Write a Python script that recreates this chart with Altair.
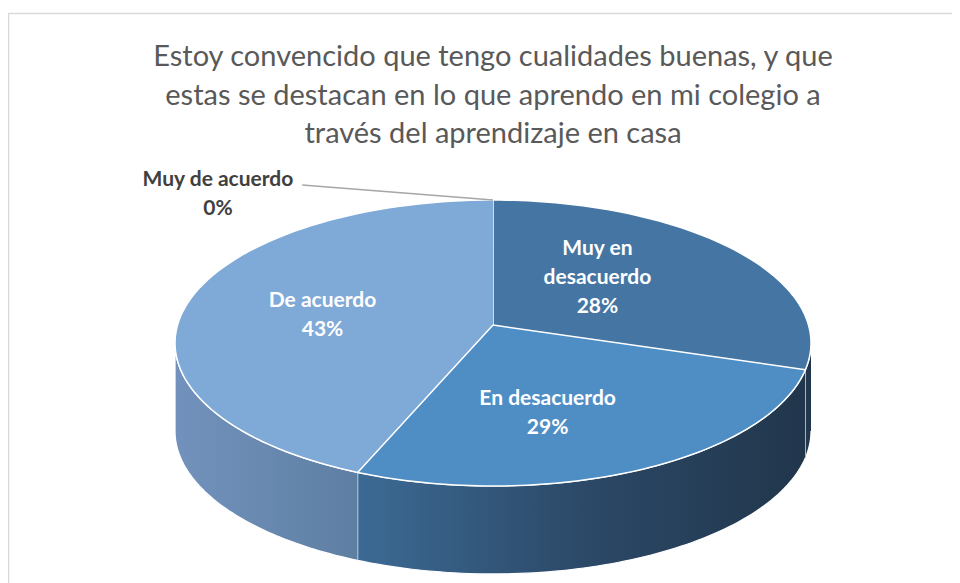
import altair as alt
import pandas as pd

# ---- data ----
categories = ["Muy en desacuerdo", "En desacuerdo", "De acuerdo", "Muy de acuerdo"]
label_names = ["Muy en\ndesacuerdo", "En desacuerdo", "De acuerdo", "Muy de acuerdo"]
percentages = [28, 29, 43, 0]

title_lines = [
    "Estoy convencido que tengo cualidades buenas, y que",
    "estas se destacan en lo que aprendo en mi colegio a",
    "través del aprendizaje en casa",
]

# ---- styles ----
top_colors = ["#4475a3", "#4f8ec5", "#7fa9d7", "#3f6d9c"]
side_gradients = {
    "Muy en desacuerdo": [("#24394f", 0), ("#21364b", 1)],
    "En desacuerdo": [("#3c6a94", 0), ("#2c4968", 0.5), ("#21364b", 1)],
    "De acuerdo": [("#7292bd", 0), ("#5e7fa2", 1)],
    "Muy de acuerdo": [("#24394f", 0), ("#21364b", 1)],
}

W, H = 944, 575
XMIN, XMAX = -1.5252, 1.4434
YMIN, YMAX = -1.6783, 2.3427
DEPTH = 0.615
APEX_Y = 0.126
N = 80
RX, RY, LX0, LY0 = 0.495, 0.62, -0.053, 0.06
LH = 29                      # label line height in px
LH_U = LH / 143.0            # same in y units

df = pd.DataFrame({
    "i": list(range(len(categories))),
    "cat": categories,
    "pct": percentages,
    "label": [f"{n}\n{p}%" for n, p in zip(label_names, percentages)],
})

xs = alt.Scale(domain=[XMIN, XMAX], nice=False, zero=False)
ys = alt.Scale(domain=[YMIN, YMAX], nice=False, zero=False)

base = (
    alt.Chart(df)
    .transform_joinaggregate(total="sum(pct)")
    .transform_window(cum="sum(pct)", sort=[alt.SortField("i")], frame=[None, 0])
    .transform_calculate(
        a0="2*PI*(datum.cum - datum.pct)/datum.total",
        a1="2*PI*datum.cum/datum.total",
        nl="length(split(datum.label, '\\n'))",
    )
)

# side walls (front half only)
side_base = (
    base.transform_calculate(s0="max(datum.a0, PI/2)", s1="min(datum.a1, 3*PI/2)")
    .transform_filter("datum.s1 > datum.s0")
    .transform_calculate(k=f"sequence(0, {2 * N + 2})")
    .transform_flatten(["k"])
    .transform_calculate(
        ang=f"datum.k <= {N} ? datum.s0 + (datum.s1 - datum.s0) * datum.k / {N}"
            f" : datum.s1 - (datum.s1 - datum.s0) * (datum.k - {N + 1}) / {N}",
    )
    .transform_calculate(
        x="sin(datum.ang)",
        y=f"datum.k <= {N} ? cos(datum.ang) : cos(datum.ang) - {DEPTH}",
    )
)

side_layers = []
for c in categories:
    stops = [alt.GradientStop(color=col, offset=off) for col, off in side_gradients[c]]
    side_layers.append(
        side_base.transform_filter(alt.datum.cat == c)
        .mark_line(
            fill=alt.LinearGradient(gradient="linear", stops=stops, x1=0, x2=1, y1=0, y2=0),
            stroke="white", strokeWidth=1.2, strokeJoin="round",
        )
        .encode(
            x=alt.X("x:Q", scale=xs, axis=None),
            y=alt.Y("y:Q", scale=ys, axis=None),
            order=alt.Order("k:Q"),
        )
    )

# top faces
top = (
    base.transform_filter("datum.pct > 0")
    .transform_calculate(k=f"sequence(-1, {N + 1})")
    .transform_flatten(["k"])
    .transform_calculate(ang=f"datum.a0 + (datum.a1 - datum.a0) * max(datum.k, 0) / {N}")
    .transform_calculate(
        x="datum.k < 0 ? 0 : sin(datum.ang)",
        y=f"datum.k < 0 ? {APEX_Y} : cos(datum.ang)",
    )
    .mark_line(filled=True, stroke="white", strokeWidth=1.5, strokeJoin="round")
    .encode(
        x=alt.X("x:Q", scale=xs, axis=None),
        y=alt.Y("y:Q", scale=ys, axis=None),
        order=alt.Order("k:Q"),
        color=alt.Color("cat:N", scale=alt.Scale(domain=categories, range=top_colors), legend=None),
    )
)

# inside labels (block centred on the computed point)
labels = (
    base.transform_filter("datum.pct > 0")
    .transform_calculate(mid="(datum.a0 + datum.a1)/2")
    .transform_calculate(
        x=f"{LX0} + sin(datum.mid)*{RX}",
        y=f"{LY0} + cos(datum.mid)*{RY} + (datum.nl - 1) / 2 * {LH_U}",
    )
    .mark_text(lineBreak="\n", color="white", font="Lato", fontWeight="bold",
               fontSize=21, lineHeight=LH, align="center", baseline="middle")
    .encode(x=alt.X("x:Q", scale=xs, axis=None), y=alt.Y("y:Q", scale=ys, axis=None),
            text="label:N")
)

# outside label for the 0% slice with leader line
zero = base.transform_filter("datum.pct == 0").transform_calculate(
    rx="sin(datum.a0)", ry="cos(datum.a0)"
).transform_calculate(
    lx="datum.rx - 0.60", ly="datum.ry + 0.105",
    tx="datum.rx - 0.865", ty=f"datum.ry + 0.038 + (datum.nl - 1) / 2 * {LH_U}",
)
leader = zero.mark_rule(color="#a6a6a6", strokeWidth=1.3).encode(
    x=alt.X("rx:Q", scale=xs, axis=None), y=alt.Y("ry:Q", scale=ys, axis=None),
    x2="lx:Q", y2="ly:Q",
)
zero_label = zero.mark_text(lineBreak="\n", color="#404040", font="Lato", fontWeight="bold",
                            fontSize=21, lineHeight=LH, align="center", baseline="middle").encode(
    x=alt.X("tx:Q", scale=xs, axis=None), y=alt.Y("ty:Q", scale=ys, axis=None), text="label:N"
)

frame = alt.Chart(pd.DataFrame({"f": [0]})).mark_rect(
    fill=None, stroke="#d9d9d9", strokeWidth=1.5
).encode(x=alt.value(0.5), x2=alt.value(W + 20), y=alt.value(5.5), y2=alt.value(H + 20))

chart = alt.layer(frame, *side_layers, top, leader, labels, zero_label).properties(
    width=W, height=H,
    autosize=alt.AutoSizeParams(type="none"),
    padding=0,
    title=alt.TitleParams(
        text=title_lines, anchor="middle", frame="group", dx=13, offset=-141,
        baseline="top", font="Lato",
        fontSize=29, fontWeight="normal", color="#595959", lineHeight=38.5,
    ),
).configure_view(stroke=None)

chart.save("out.html", embed_options={"renderer": "svg", "actions": False})
